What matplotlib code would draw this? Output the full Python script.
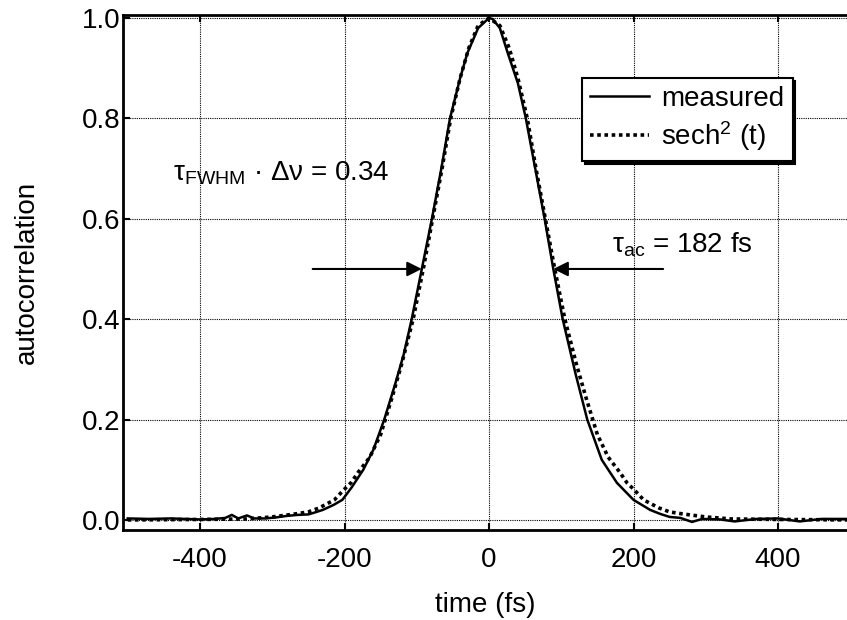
import matplotlib
matplotlib.use("Agg")
import matplotlib.pyplot as plt

plt.rcParams['font.family'] = ['Liberation Sans', 'DejaVu Sans']
plt.rcParams['mathtext.default'] = 'regular'
plt.rcParams['font.size'] = 20

# measured autocorrelation trace (time in fs, normalised signal)
t_meas = [-500, -470, -440, -400, -380, -365, -356, -347, -335, -325, -310, -295,
          -280, -265, -250, -243, -230, -215, -203, -190, -174, -160, -145, -130,
          -118, -107, -93, -79, -66, -54, -40, -30, -15, 0, 5, 15, 26, 40, 51,
          64, 77, 89, 102, 120, 136, 156, 177, 200, 223, 237, 250, 265, 281, 295,
          320, 340, 370, 400, 430, 460, 495]
v_meas = [0.003, 0.002, 0.003, 0.001, 0.002, 0.004, 0.010, 0.003, 0.009, 0.003,
          0.003, 0.005, 0.008, 0.010, 0.011, 0.014, 0.020, 0.030, 0.040, 0.065,
          0.100, 0.140, 0.200, 0.270, 0.330, 0.400, 0.500, 0.600, 0.700, 0.800,
          0.880, 0.930, 0.980, 1.000, 0.998, 0.980, 0.930, 0.870, 0.800, 0.700,
          0.600, 0.500, 0.400, 0.290, 0.200, 0.120, 0.074, 0.040, 0.020, 0.012,
          0.006, 0.004, -0.004, 0.002, 0.001, -0.003, 0.002, 0.003, -0.003,
          0.002, 0.002]

# sech^2 fit of the autocorrelation
t_fit = [-500, -400, -335, -300, -268, -250, -235, -214, -201, -191, -181, -165,
         -150, -134, -121, -105, -91, -78, -65, -53, -40, -28, -15, 0,
         15, 28, 40, 53, 65, 78, 91, 105, 121, 134, 150, 165, 181, 191, 201,
         214, 235, 250, 268, 300, 335, 400, 500]
v_fit = [0.000, 0.001, 0.002, 0.006, 0.012, 0.016, 0.024, 0.040, 0.060, 0.074,
         0.095, 0.125, 0.170, 0.245, 0.310, 0.400, 0.500, 0.600, 0.700, 0.800,
         0.880, 0.940, 0.985, 1.000,
         0.985, 0.940, 0.880, 0.800, 0.700, 0.600, 0.500, 0.400, 0.310, 0.245,
         0.170, 0.125, 0.095, 0.074, 0.060, 0.040, 0.024, 0.016, 0.012, 0.006,
         0.002, 0.001, 0.000]

# FWHM markers
half_max = 0.5
fwhm_left, fwhm_right = -93, 89

x_ticks = [-400, -200, 0, 200, 400]
y_ticks = [0.0, 0.2, 0.4, 0.6, 0.8, 1.0]

fig = plt.figure(figsize=(8.47, 6.2), dpi=100)
ax = fig.add_axes([0.1452, 0.1452, 0.8548, 0.8306])

ax.plot(t_meas, v_meas, color='black', lw=1.8, label='measured')
ax.plot(t_fit, v_fit, color='black', lw=2.6, linestyle=(0, (1, 1)),
        label='sech$^2$ (t)')

ax.set_xlim(-506.6, 495.5)
ax.set_ylim(-0.02, 1.006)
ax.set_xticks(x_ticks)
ax.set_yticks(y_ticks)
ax.set_xticklabels([str(v) for v in x_ticks])
ax.set_yticklabels([f'{v:.1f}' for v in y_ticks])
ax.grid(True, color='black', lw=0.8, linestyle=(0, (1, 1)))
ax.tick_params(direction='in', length=5, width=1.5, top=True, right=False,
               labelsize=20)
ax.tick_params(axis='x', pad=12)
ax.tick_params(axis='y', pad=2)
for side in ['left', 'bottom', 'top']:
    ax.spines[side].set_linewidth(2)
ax.spines['right'].set_visible(False)

ax.set_xlabel('time (fs)', fontsize=20, labelpad=14)
ax.set_ylabel('autocorrelation', fontsize=20, labelpad=30)

# arrows pointing at the half-maximum points
ax.annotate('', xy=(fwhm_left, half_max), xytext=(-244, half_max),
            arrowprops=dict(arrowstyle='-|>', color='black', lw=1.5,
                            mutation_scale=22, shrinkA=0, shrinkB=0))
ax.annotate('', xy=(fwhm_right, half_max), xytext=(241, half_max),
            arrowprops=dict(arrowstyle='-|>', color='black', lw=1.5,
                            mutation_scale=22, shrinkA=0, shrinkB=0))

ax.text(170, 0.532, r'τ$_{ac}$ = 182 fs', fontsize=20, ha='left', va='baseline')
ax.text(-437, 0.677, r'τ$_{FWHM}$ · Δν = 0.34', fontsize=20, ha='left',
        va='baseline')

leg = ax.legend(loc='upper right', bbox_to_anchor=(0.925, 0.878),
                borderaxespad=0, fancybox=False, framealpha=1,
                edgecolor='black', handlelength=2.1, handletextpad=0.45,
                labelspacing=0.25, borderpad=0.3,
                shadow={'color': 'black', 'alpha': 1})
leg.get_frame().set_linewidth(1.5)

fig.savefig('out.png', dpi=100)
